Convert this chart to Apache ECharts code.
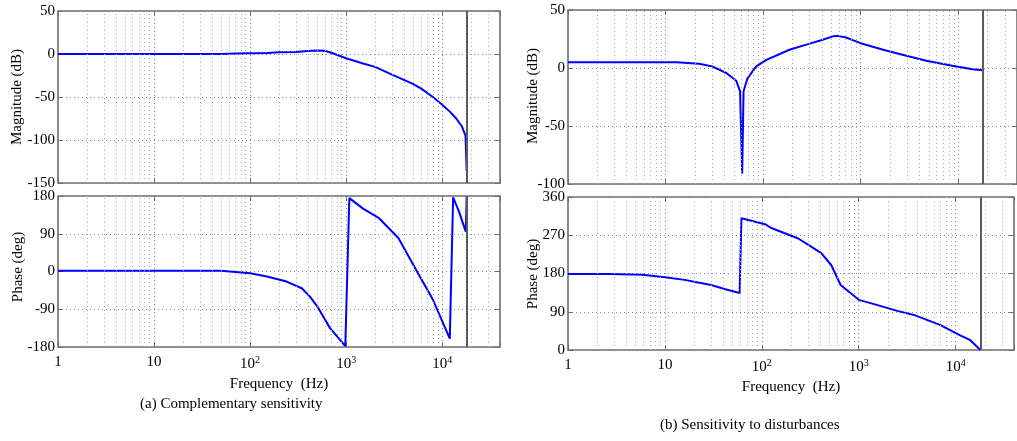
<!DOCTYPE html>
<html><head><meta charset="utf-8">
<script src="https://cdn.jsdelivr.net/npm/echarts@6/dist/echarts.min.js"></script>
<style>html,body{margin:0;padding:0;background:#fff}#c{width:1017px;height:441px}</style>
</head><body><div id="c"></div>
<script>
// ---- data ----
const tMagF = [1, 10, 50, 70, 100, 150, 200, 300, 400, 500, 600, 700, 1000, 1500, 2000, 3000, 4000, 5000, 6000, 8000, 10000, 12000, 14000, 16000, 17500, 18000];
const tMagV = [0, 0, 0, 0.5, 1, 1.2, 2, 2.2, 3.5, 4, 3.8, 1.5, -5, -11, -15, -24, -30, -35, -40, -50, -59, -67, -75, -84, -95, -136];
const tPhF = [1, 50, 100, 150, 240, 345, 420, 500, 680, 980, 1080, 1500, 2200, 3500, 5600, 8000, 12000, 13000, 15000, 17600, 18000];
const tPhV = [2, 2, -4, -12, -24, -40, -60, -83, -135, -178, 175, 150, 127, 80, -4, -67, -160, 177, 142, 95, 180];
const sMagF = [1, 10, 13, 22, 30, 42, 53, 58, 61, 63, 69, 85, 108, 186, 300, 378, 520, 580, 710, 830, 1000, 1700, 2500, 4700, 8700, 14000, 18000];
const sMagV = [5, 5, 4.9, 3.7, 1.4, -4.3, -11, -20, -91, -20, -9, 1.4, 7, 15.7, 21, 23.5, 27.3, 27.7, 26.3, 24, 21.4, 15.7, 12, 6.3, 2, -1.1, -2];
const sPhF = [1, 2.7, 5.9, 10, 16, 22, 30, 42, 59, 61.6, 108, 125, 235, 320, 410, 520, 650, 1000, 1440, 2500, 3700, 6900, 11000, 14000, 18000];
const sPhV = [179, 179, 177, 171, 165, 159, 153, 143, 134, 310, 296, 287, 263, 244, 228, 200, 153, 118, 108, 92, 82.5, 59, 35, 24, 0];
const xTickBase = ['1', '10', '10', '10', '10'];
const xTickExp = ['', '', '2', '3', '4'];
const xMin = 1, xMax = 40000;
const nyquist = 18000;
const decades = [1, 10, 100, 1000, 10000];
const yNames = ['Magnitude (dB)', 'Phase (deg)', 'Magnitude (dB)', 'Phase (deg)'];
const yRanges = [[-150, 50, 50], [-180, 180, 90], [-100, 50, 50], [0, 360, 90]];
const captions = ['(a) Complementary sensitivity', '(b) Sensitivity to disturbances'];
const xName = 'Frequency  (Hz)';

const FONT = 'Liberation Serif';
const pairs = (f, v) => f.map((x, i) => [x, v[i]]);
const minor = [];
decades.forEach(d => { for (let k = 2; k <= 9; k++) { if (k * d < xMax) minor.push(k * d); } });

const grids = [
  {left: 58, top: 11, width: 442, height: 172},
  {left: 58, top: 196, width: 442, height: 151},
  {left: 568, top: 10, width: 450, height: 174},
  {left: 568, top: 197, width: 450, height: 153}
];
const yNamePos = [[17, 97], [18, 267], [533, 96], [533, 274]];
const gridOpts = grids.map(g => Object.assign({show: true, borderColor: '#6e6e6e', borderWidth: 1.6, backgroundColor: 'transparent'}, g));

const tickStyle = {show: true, inside: true, length: 5, lineStyle: {color: '#6e6e6e', width: 1}};
const xAxes = grids.map((g, i) => ({
  type: 'log', logBase: 10, min: xMin, max: xMax, gridIndex: i, position: 'bottom',
  name: (i % 2 === 1) ? xName : '', nameLocation: 'middle', nameGap: 30,
  nameTextStyle: {fontFamily: FONT, fontSize: 15, color: '#000'},
  axisLine: {show: false, onZero: false},
  axisTick: tickStyle,
  splitLine: {show: true, lineStyle: {type: [1, 3], color: '#8a8a8a', width: 1}},
  axisLabel: {
    show: i % 2 === 1, margin: 8, fontFamily: FONT, fontSize: 15, color: '#000',
    formatter: v => {
      const e = Math.log10(v); const k = Math.round(e);
      if (Math.abs(e - k) > 1e-6 || k < 0 || k >= xTickBase.length) return '';
      return xTickExp[k] ? '{b|' + xTickBase[k] + '}{s|' + xTickExp[k] + '}' : '{b|' + xTickBase[k] + '}';
    },
    rich: {
      b: {fontFamily: FONT, fontSize: 15, color: '#000'},
      s: {fontFamily: FONT, fontSize: 10, color: '#000', verticalAlign: 'bottom', padding: [0, 0, 9, 0]}
    }
  }
}));
// mirrored tick marks on top edge
grids.forEach((g, i) => xAxes.push({
  type: 'log', logBase: 10, min: xMin, max: xMax, gridIndex: i, position: 'top',
  axisLine: {show: false, onZero: false}, axisTick: tickStyle,
  splitLine: {show: false}, axisLabel: {show: false}
}));
const yAxes = grids.map((g, i) => ({
  type: 'value', gridIndex: i, min: yRanges[i][0], max: yRanges[i][1], interval: yRanges[i][2], position: 'left',
  axisLine: {show: false, onZero: false},
  axisTick: tickStyle,
  splitLine: {show: true, lineStyle: {type: [1, 3], color: '#8a8a8a', width: 1}},
  axisLabel: {margin: 3, fontFamily: FONT, fontSize: 15, color: '#000'}
}));
// mirrored tick marks on right edge
grids.forEach((g, i) => yAxes.push({
  type: 'value', gridIndex: i, min: yRanges[i][0], max: yRanges[i][1], interval: yRanges[i][2], position: 'right',
  axisLine: {show: false, onZero: false}, axisTick: tickStyle,
  splitLine: {show: false}, axisLabel: {show: false}
}));

const curves = [pairs(tMagF, tMagV), pairs(tPhF, tPhV), pairs(sMagF, sMagV), pairs(sPhF, sPhV)];
const series = [];
grids.forEach((g, i) => {
  series.push({
    type: 'line', xAxisIndex: i, yAxisIndex: i, data: [], z: 1, silent: true,
    markLine: {
      silent: true, symbol: ['none', 'none'], label: {show: false}, animation: false,
      lineStyle: {type: [1, 3], color: '#a8a8a8', width: 1},
      data: minor.map(v => ({xAxis: v}))
    }
  });
  series.push({
    type: 'line', xAxisIndex: i, yAxisIndex: i, data: curves[i], z: 3,
    showSymbol: false, smooth: false, animation: false,
    lineStyle: {color: '#0000ff', width: 2}
  });
  series.push({
    type: 'line', xAxisIndex: i, yAxisIndex: i, data: [], z: 4, silent: true,
    markLine: {
      silent: true, symbol: ['none', 'none'], label: {show: false}, animation: false,
      lineStyle: {type: 'solid', color: '#5a5a5a', width: 2},
      data: [{xAxis: nyquist}]
    }
  });
});

const graphics = yNames.map((t, i) => ({
  type: 'text', x: yNamePos[i][0], y: yNamePos[i][1], rotation: Math.PI / 2,
  style: {text: t, font: '15px "Liberation Serif"', fill: '#000', textAlign: 'center', textVerticalAlign: 'middle'}
}));
graphics.push({type: 'text', left: 140, top: 397, style: {text: captions[0], font: '15px "Liberation Serif"', fill: '#000'}});
graphics.push({type: 'text', left: 660, top: 418, style: {text: captions[1], font: '15px "Liberation Serif"', fill: '#000'}});

const chart = echarts.init(document.getElementById('c'), null, {renderer: 'canvas'});
chart.setOption({
  animation: false,
  backgroundColor: '#fff',
  grid: gridOpts,
  xAxis: xAxes,
  yAxis: yAxes,
  series: series,
  graphic: graphics
});
</script></body></html>
